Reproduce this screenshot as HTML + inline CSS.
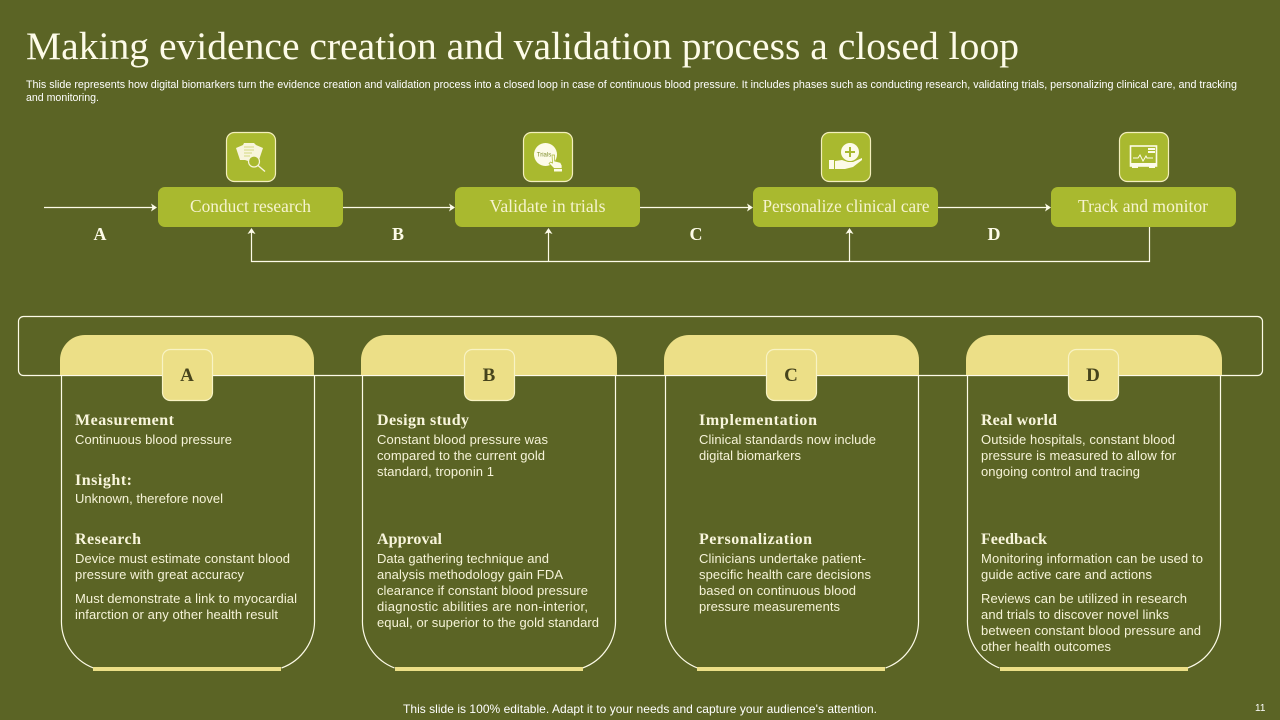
<!DOCTYPE html>
<html><head><meta charset="utf-8"><style>
html,body{margin:0;padding:0;background:#5b6425;width:1280px;height:720px;overflow:hidden}
svg{display:block}
.s{font-family:"Liberation Sans",sans-serif;fill:#fff}
.b{font-family:"Liberation Sans",sans-serif;font-size:13px;fill:#f6f3d8}
.h{font-family:"Liberation Serif",serif;font-size:16px;font-weight:bold;fill:#f8f5dc}
.n{font-family:"Liberation Serif",serif;font-size:17.5px;fill:#f6f3cf;text-anchor:middle}
.l{font-family:"Liberation Serif",serif;font-size:18px;font-weight:bold;fill:#fdfbe8;text-anchor:middle}
.k{font-family:"Liberation Serif",serif;font-size:19px;font-weight:bold;fill:#46441c;text-anchor:middle}
.w{fill:none;stroke:#fdfbe8;stroke-width:1.2}
.t{fill:#a9b92f;stroke:#f4efbc;stroke-width:1.2}
.y{fill:#ecdf87;stroke:#f8f3c4;stroke-width:1.2}
</style></head><body>
<svg width="1280" height="720" viewBox="0 0 1280 720" xmlns="http://www.w3.org/2000/svg">
<rect width="1280" height="720" fill="#5b6425"/>
<text x="26" y="59" font-family="Liberation Serif,serif" font-size="39" fill="#fdfbe8" textLength="993" lengthAdjust="spacingAndGlyphs">Making evidence creation and validation process a closed loop</text>
<text class="s" x="26" y="88" font-size="11" textLength="1211" lengthAdjust="spacingAndGlyphs">This slide represents how digital biomarkers turn the evidence creation and validation process into a closed loop in case of continuous blood pressure. It includes phases such as conducting research, validating trials, personalizing clinical care, and tracking</text>
<text class="s" x="26" y="101" font-size="11" textLength="73" lengthAdjust="spacingAndGlyphs">and monitoring.</text>

<!-- connectors -->
<g class="w">
<path d="M44 207.500H155M343 207.500H452M640 207.500H750M938 207.500H1048"/>
<path d="M1149.500 227V261.500H251.500V231M548.500 261V231M849.500 261V231"/>
</g>
<g fill="#fdfbe8">
<path d="M157 207.500l-6-4 1.500 4-1.500 4z"/>
<path d="M455 207.500l-6-4 1.500 4-1.500 4z"/>
<path d="M753 207.500l-6-4 1.500 4-1.500 4z"/>
<path d="M1051 207.500l-6-4 1.500 4-1.500 4z"/>
<path d="M251.500 228l-4 6 4-1.500 4 1.500z"/>
<path d="M548.500 228l-4 6 4-1.500 4 1.500z"/>
<path d="M849.500 228l-4 6 4-1.500 4 1.500z"/>
</g>

<!-- process boxes -->
<g fill="#a9b92f">
<rect x="158" y="187" width="185" height="40" rx="7"/>
<rect x="455" y="187" width="185" height="40" rx="7"/>
<rect x="753" y="187" width="185" height="40" rx="7"/>
<rect x="1051" y="187" width="185" height="40" rx="7"/>
</g>
<text class="n" x="250.500" y="212" textLength="121" lengthAdjust="spacingAndGlyphs">Conduct research</text>
<text class="n" x="547.500" y="212" textLength="116" lengthAdjust="spacingAndGlyphs">Validate in trials</text>
<text class="n" x="846" y="212" textLength="167" lengthAdjust="spacingAndGlyphs">Personalize clinical care</text>
<text class="n" x="1143" y="212" textLength="130" lengthAdjust="spacingAndGlyphs">Track and monitor</text>
<text class="l" x="100" y="240">A</text>
<text class="l" x="398" y="240">B</text>
<text class="l" x="696" y="240">C</text>
<text class="l" x="994" y="240">D</text>

<!-- icon tiles -->
<rect class="t" x="226.500" y="132.500" width="49" height="49" rx="8"/>
<rect class="t" x="523.500" y="132.500" width="49" height="49" rx="8"/>
<rect class="t" x="821.500" y="132.500" width="49" height="49" rx="8"/>
<rect class="t" x="1119.500" y="132.500" width="49" height="49" rx="8"/>
<!-- icon 1 -->
<path d="M236 148l7-3 1-2h10l2 2 7 3-4 12-4-1-4 3-6-2-5 0z" fill="#f8f5dc"/>
<g stroke="#c9d060" stroke-width=".8"><path d="M244 147h10M244 150h10M244 153h8M244 156h6"/></g>
<circle cx="254" cy="161.500" r="5.500" fill="#a9b92f" stroke="#f8f5dc" stroke-width="1.200"/>
<path d="M258 165.500l7 6" stroke="#f8f5dc" stroke-width="1.400"/>
<!-- icon 2 -->
<circle cx="545.500" cy="154.500" r="11.500" fill="#fdfbe8"/>
<text x="544" y="156.500" font-family="Liberation Sans,sans-serif" font-size="6" fill="#7d8a26" text-anchor="middle">Trials</text>
<path d="M552 155h2.500v6l6 1.500 1.500 3v3h-8l-5-5 1.500-1.500 2 1z" fill="#fdfbe8" stroke="#a9b92f" stroke-width=".7"/>
<rect x="554" y="169" width="8" height="2.500" fill="#fdfbe8"/>
<!-- icon 3 -->
<circle cx="850" cy="152" r="9" fill="#fdfbe8"/>
<path d="M850 147v10M845 152h10" stroke="#a9b92f" stroke-width="2"/>
<rect x="829" y="160" width="5" height="9" fill="#fdfbe8"/>
<path d="M835 161l7-1 6 2h5l9-4 0 2-9 7-8 2h-10z" fill="#fdfbe8"/>
<!-- icon 4 -->
<rect x="1130.500" y="146" width="26" height="20" fill="none" stroke="#fdfbe8" stroke-width="1.600"/>
<rect x="1130" y="163" width="27" height="3.500" fill="#fdfbe8"/>
<rect x="1132" y="166" width="6" height="2" fill="#fdfbe8"/><rect x="1149" y="166" width="6" height="2" fill="#fdfbe8"/>
<path d="M1148 148h7v2h-7zM1148 151h7v2h-7z" fill="#fdfbe8"/>
<path d="M1133 158h5l2-3 3 6 3-5 1 2h6" fill="none" stroke="#fdfbe8" stroke-width="1"/>

<!-- band -->
<rect class="w" x="18.500" y="316.500" width="1244" height="59" rx="5"/>

<!-- cards -->
<g class="w">
<path d="M61.500 375V619a50 50 0 0 0 32 49M314.500 375V619a50 50 0 0 1 -33 49"/>
<path d="M362.500 375V619a50 50 0 0 0 32 49M615.500 375V619a50 50 0 0 1 -33 49"/>
<path d="M665.500 375V619a50 50 0 0 0 32 49M918.500 375V619a50 50 0 0 1 -33 49"/>
<path d="M967.500 375V619a50 50 0 0 0 32 49M1220.500 375V619a50 50 0 0 1 -33 49"/>
</g>
<g fill="#ecdf87">
<rect x="93" y="667" width="188" height="4"/>
<rect x="395" y="667" width="188" height="4"/>
<rect x="697" y="667" width="188" height="4"/>
<rect x="1000" y="667" width="188" height="4"/>
<path d="M60 375V360a25 25 0 0 1 25-25H289a25 25 0 0 1 25 25V375z"/>
<path d="M361 375V360a25 25 0 0 1 25-25H592a25 25 0 0 1 25 25V375z"/>
<path d="M664 375V360a25 25 0 0 1 25-25H894a25 25 0 0 1 25 25V375z"/>
<path d="M966 375V360a25 25 0 0 1 25-25H1197a25 25 0 0 1 25 25V375z"/>
</g>
<rect class="y" x="162.500" y="349.500" width="50" height="51" rx="8"/>
<rect class="y" x="464.500" y="349.500" width="50" height="51" rx="8"/>
<rect class="y" x="766.500" y="349.500" width="50" height="51" rx="8"/>
<rect class="y" x="1068.500" y="349.500" width="50" height="51" rx="8"/>
<text class="k" x="187" y="381">A</text>
<text class="k" x="489" y="381">B</text>
<text class="k" x="791" y="381">C</text>
<text class="k" x="1093" y="381">D</text>

<!-- card A -->
<text class="h" x="75" y="425" textLength="99">Measurement</text>
<text class="b" x="75" y="444" textLength="157">Continuous blood pressure</text>
<text class="h" x="75" y="485" textLength="57">Insight:</text>
<text class="b" x="75" y="503" textLength="148">Unknown, therefore novel</text>
<text class="h" x="75" y="544" textLength="66">Research</text>
<text class="b" x="75" y="563" textLength="215">Device must estimate constant blood</text>
<text class="b" x="75" y="579" textLength="169">pressure with great accuracy</text>
<text class="b" x="75" y="603" textLength="222">Must demonstrate a link to myocardial</text>
<text class="b" x="75" y="619" textLength="203">infarction or any other health result</text>
<!-- card B -->
<text class="h" x="377" y="425" textLength="92">Design study</text>
<text class="b" x="377" y="444" textLength="171">Constant blood pressure was</text>
<text class="b" x="377" y="460" textLength="168">compared to the current gold</text>
<text class="b" x="377" y="476" textLength="117">standard, troponin 1</text>
<text class="h" x="377" y="544" textLength="65">Approval</text>
<text class="b" x="377" y="563" textLength="172">Data gathering technique and</text>
<text class="b" x="377" y="579" textLength="186">analysis methodology gain FDA</text>
<text class="b" x="377" y="595" textLength="211">clearance if constant blood pressure</text>
<text class="b" x="377" y="611" textLength="211">diagnostic abilities are non-interior,</text>
<text class="b" x="377" y="627" textLength="222">equal, or superior to the gold standard</text>
<!-- card C -->
<text class="h" x="699" y="425" textLength="118">Implementation</text>
<text class="b" x="699" y="444" textLength="177">Clinical standards now include</text>
<text class="b" x="699" y="460" textLength="102">digital biomarkers</text>
<text class="h" x="699" y="544" textLength="113">Personalization</text>
<text class="b" x="699" y="563" textLength="167">Clinicians undertake patient-</text>
<text class="b" x="699" y="579" textLength="172">specific health care decisions</text>
<text class="b" x="699" y="595" textLength="157">based on continuous blood</text>
<text class="b" x="699" y="611" textLength="141">pressure measurements</text>
<!-- card D -->
<text class="h" x="981" y="425" textLength="76">Real world</text>
<text class="b" x="981" y="444" textLength="194">Outside hospitals, constant blood</text>
<text class="b" x="981" y="460" textLength="195">pressure is measured to allow for</text>
<text class="b" x="981" y="476" textLength="159">ongoing control and tracing</text>
<text class="h" x="981" y="544" textLength="66">Feedback</text>
<text class="b" x="981" y="563" textLength="222">Monitoring information can be used to</text>
<text class="b" x="981" y="579" textLength="171">guide active care and actions</text>
<text class="b" x="981" y="603" textLength="206">Reviews can be utilized in research</text>
<text class="b" x="981" y="619" textLength="188">and trials to discover novel links</text>
<text class="b" x="981" y="635" textLength="220">between constant blood pressure and</text>
<text class="b" x="981" y="651" textLength="130">other health outcomes</text>

<text class="s" x="403" y="713" font-size="12" textLength="474">This slide is 100% editable. Adapt it to your needs and capture your audience's attention.</text>
<text class="s" x="1255" y="711" font-size="10">11</text>
</svg>
</body></html>
